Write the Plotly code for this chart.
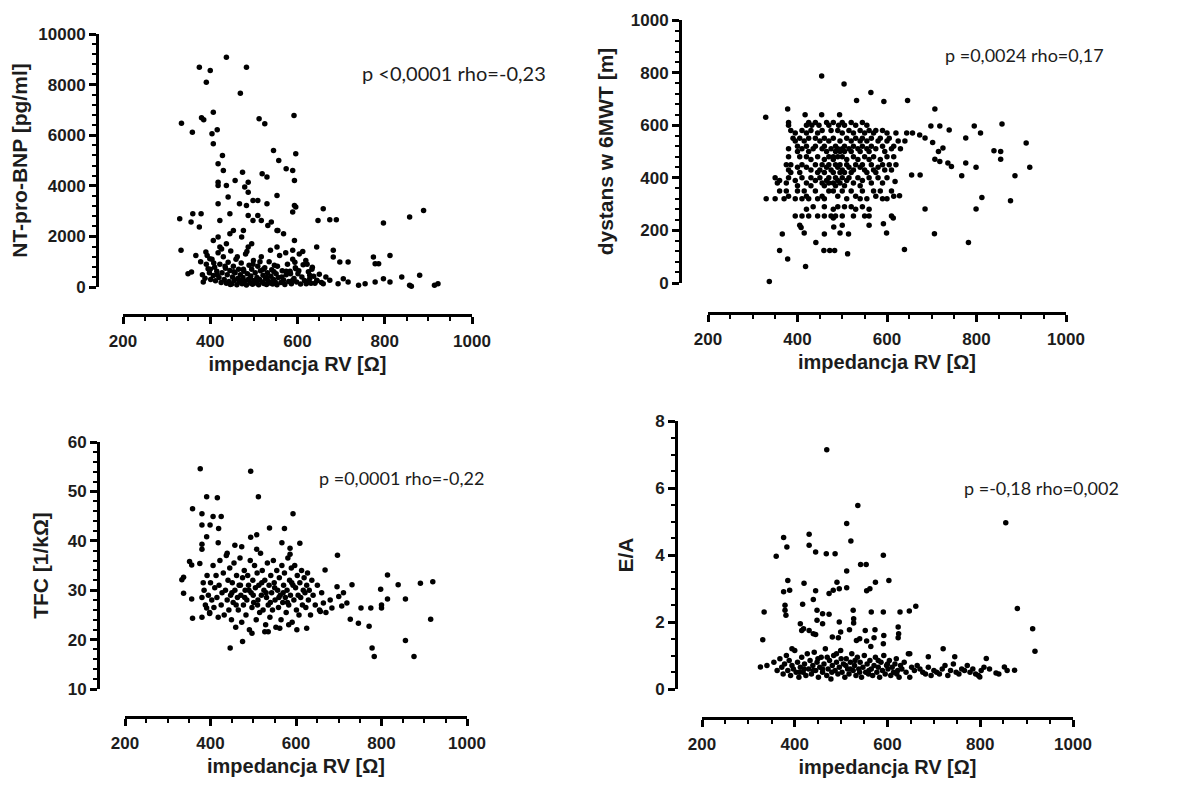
import plotly.graph_objects as go

# ---- data ----
# panel 1: NT-pro-BNP vs impedance
bnp_x = [437, 375, 400, 483, 391, 469, 334, 380, 385, 407, 359, 416, 404, 407, 512, 525, 592,
         428, 418, 545, 557, 596, 574, 589, 593, 430, 474, 457, 487, 418, 418, 437, 479, 487,
         519, 530, 441, 418, 498, 509, 553, 530, 467, 483, 593, 596, 589, 659, 889, 857, 797,
         647, 674, 689, 330, 360, 375, 356, 379, 422, 445, 487, 498, 509, 517, 532, 540, 555,
         568, 553, 445, 453, 476, 418, 407, 422, 437, 472, 495, 487, 553, 589, 593, 644, 682,
         774, 778, 786, 812, 333, 367, 390, 399, 697, 716, 682, 596, 357, 349, 812, 839, 857,
         861, 880, 914, 922, 797, 778, 755, 740, 716, 705, 693, 674, 659, 644, 628, 620, 589, 574,
         382, 388, 391, 395, 398, 401, 404, 407, 410, 412, 415, 418, 420, 422, 425, 427, 430,
         432, 435, 437, 439, 441, 443, 445, 447, 449, 451, 453, 455, 457, 459, 461, 463, 465,
         467, 469, 471, 473, 475, 477, 479, 481, 483, 485, 487, 489, 491, 493, 495, 497, 499,
         501, 503, 505, 507, 509, 511, 513, 515, 517, 519, 521, 523, 525, 527, 529, 531, 533,
         535, 537, 539, 541, 543, 545, 547, 549, 551, 553, 556, 559, 562, 565, 568, 571, 574,
         577, 580, 583, 586, 589, 592, 595, 598, 601, 604, 607, 610, 613, 616, 619, 622, 625,
         628, 631, 634, 637, 640, 378, 384, 393, 400, 408, 416, 426, 434, 446, 454, 462, 470,
         476, 484, 492, 498, 506, 514, 522, 530, 538, 546, 554, 564, 573, 584, 594, 603, 612,
         622, 633, 645, 650, 655, 665, 672]
bnp_y = [9080, 8686, 8554, 8686, 8093, 7659, 6475, 6685, 6606, 6909, 6119, 6211, 6054, 5659,
         6646, 6448, 6777, 5198, 4869, 5396, 5001, 5264, 4672, 4606, 4211, 4606, 4540, 4211,
         4145, 4145, 4014, 4014, 3948, 3750, 4474, 4343, 3553, 3290, 3422, 3422, 3619, 3290,
         3290, 3224, 3224, 3158, 2961, 3093, 3027, 2764, 2527, 2632, 2658, 2658, 2698, 2895,
         2369, 2566, 2895, 2632, 2895, 2829, 2632, 2829, 2632, 2435, 2566, 2237, 2106, 2237,
         2106, 2237, 2237, 1974, 1842, 1579, 1711, 1974, 1711, 1579, 1579, 1448, 1842, 1579,
         1448, 1184, 921, 921, 1250, 1448, 1250, 1382, 1118, 987, 987, 1184, 724, 592, 526,
         197, 395, 66, 26, 460, 66, 132, 329, 197, 132, 66, 197, 329, 132, 263, 132, 263, 461,
         132, 263,
         620, 480, 350, 900, 720, 560, 300, 1100, 450, 780, 250, 620, 1350, 380, 900, 180, 560,
         1200, 300, 740, 150, 480, 980, 220, 650, 1420, 120, 400, 820, 260, 560, 1100, 90, 340,
         700, 200, 480, 950, 130, 380, 620, 240, 1300, 80, 520, 300, 860, 160, 430, 700, 110,
         1050, 260, 560, 180, 380, 820, 90, 300, 640, 1200, 200, 460, 140, 760, 340, 100, 560,
         250, 1000, 160, 420, 680, 120, 300, 860, 200, 520, 90, 380, 1250, 180, 640, 280, 100,
         480, 900, 220, 620, 130, 1100, 340, 760, 200, 520, 1300, 120, 400, 880, 260, 1050, 180,
         600, 330, 150, 780, 420, 150, 1000, 200, 1250, 700, 950, 480, 1500, 820, 100, 600, 1200,
         260, 700, 1400, 340, 900, 160, 1000, 700, 380, 1450, 600, 820, 400, 1350, 520, 980, 640,
         1400, 900, 700, 250, 500, 180, 400]

# panel 2: 6MWT distance vs impedance
mwt_x = [329, 337, 454, 504, 564, 532, 593, 646, 378, 707, 857, 698, 718, 739, 795, 809, 776,
         839, 854, 854, 911, 919, 886, 876, 812, 799, 799, 776, 767, 736, 744, 718, 707, 715,
         725, 702, 685, 673, 657, 644, 685, 706, 782, 639, 618, 628, 614, 599, 592, 674, 655,
         366, 360, 378, 418, 441, 408, 415, 460, 481, 495, 514, 459, 472, 483, 512, 480,
         417, 454, 494,
         380, 425, 440, 465, 480, 500, 520, 545,
         380, 420, 432, 448, 470, 492, 505, 530, 555,
         385, 410, 430, 455, 475, 490, 515, 540, 560, 575, 590,
         395, 420, 445, 500, 525, 550, 570, 600, 620,
         390, 405, 425, 440, 460, 480, 510, 530, 545, 565, 585, 605,
         395, 415, 450, 470, 495, 520, 540, 555, 580, 600, 625, 640,
         400, 420, 440, 460, 485, 505, 525, 545, 565, 590, 615,
         380, 410, 435, 455, 475, 490, 500, 515, 535, 555, 575, 610, 630,
         400, 425, 465, 485, 495, 505, 520, 540, 560, 595,
         380, 405, 420, 445, 470, 480, 490, 500, 525, 550, 570, 600, 615,
         430, 460, 480, 510, 535, 560, 585,
         375, 385, 410, 440, 455, 470, 485, 495, 510, 530, 545, 565, 590, 605, 620,
         400, 420, 465, 490, 515, 540, 580,
         380, 430, 450, 475, 500, 525, 550, 570, 595, 610,
         385, 405, 445, 460, 480, 495, 505, 520, 555, 575,
         350, 380, 410, 430, 450, 470, 485, 500, 515, 535, 560, 580, 600,
         360, 395, 440, 465, 490, 510, 545,
         355, 375, 420, 455, 470, 480, 495, 525, 565, 590,
         400, 430, 460, 485, 505, 540,
         360, 375, 400, 415, 440, 470, 480, 500, 520, 545, 570, 585, 610,
         380, 420, 455, 490, 530, 575, 615,
         330, 350, 370, 395, 410, 425, 445, 460, 510, 540, 555, 590, 600,
         435, 460, 490, 505, 520, 545,
         420, 480, 530, 560,
         395, 410, 425, 445, 460, 475, 485, 500, 525, 550, 560, 610,
         405, 500, 560]
mwt_y = [630, 6, 787, 757, 724, 694, 690, 694, 662, 662, 605, 597, 597, 582, 597, 570, 551,
         503, 500, 471, 532, 440, 408, 313, 325, 281, 440, 456, 408, 456, 443, 462, 471, 500,
         513, 534, 551, 563, 570, 570, 281, 187, 154, 127, 386, 332, 247, 190, 225, 411, 411,
         186, 124, 91, 63, 154, 211, 190, 186, 213, 190, 186, 124, 124, 124, 111, 247,
         640, 640, 640,
         610, 610, 610, 610, 610, 610, 610, 610,
         600, 600, 600, 600, 600, 600, 600, 600, 600,
         580, 580, 580, 580, 580, 580, 580, 580, 580, 580, 580,
         570, 570, 570, 570, 570, 570, 570, 570, 570,
         550, 550, 550, 550, 550, 550, 550, 550, 550, 550, 550, 550,
         540, 540, 540, 540, 540, 540, 540, 540, 540, 540, 540, 540,
         520, 520, 520, 520, 520, 520, 520, 520, 520, 520, 520,
         510, 510, 510, 510, 510, 510, 510, 510, 510, 510, 510, 510, 510,
         500, 500, 500, 500, 500, 500, 500, 500, 500, 500,
         480, 480, 480, 480, 480, 480, 480, 480, 480, 480, 480, 480, 480,
         470, 470, 470, 470, 470, 470, 470,
         450, 450, 450, 450, 450, 450, 450, 450, 450, 450, 450, 450, 450, 450, 450,
         440, 440, 440, 440, 440, 440, 440,
         430, 430, 430, 430, 430, 430, 430, 430, 430, 430,
         420, 420, 420, 420, 420, 420, 420, 420, 420, 420,
         400, 400, 400, 400, 400, 400, 400, 400, 400, 400, 400, 400, 400,
         390, 390, 390, 390, 390, 390, 390,
         380, 380, 380, 380, 380, 380, 380, 380, 380, 380,
         370, 370, 370, 370, 370, 370,
         350, 350, 350, 350, 350, 350, 350, 350, 350, 350, 350, 350, 350,
         330, 330, 330, 330, 330, 330, 330,
         320, 320, 320, 320, 320, 320, 320, 320, 320, 320, 320, 320, 320,
         290, 290, 290, 290, 290, 290,
         280, 280, 280, 280,
         255, 255, 255, 255, 255, 255, 255, 255, 255, 255, 255, 255,
         220, 220, 220]

# panel 3: TFC vs impedance
tfc_x = [376, 494, 512, 391, 416, 358, 380, 406, 425, 593, 380, 399, 419, 538, 573, 391, 508,
         494, 418, 380, 567, 609, 380, 457, 473, 508, 586, 586, 697, 351, 356, 375, 439, 337,
         333, 337, 356, 358, 380, 398, 391, 446, 475, 778, 783, 856, 876, 915, 920, 891, 856,
         839, 814, 814, 798, 800, 800, 775, 771, 746, 752, 727, 731, 719, 707, 711, 696, 700,
         684, 664, 668, 657, 625, 602, 583, 562, 535, 527, 497,
         385, 388, 392, 395, 398, 400, 403, 406, 408, 410, 413, 415, 418, 420, 422, 425, 427,
         430, 432, 435, 437, 439, 441, 443, 445, 447, 449, 451, 453, 455, 457, 459, 461, 463,
         465, 467, 469, 471, 473, 475, 477, 479, 481, 483, 485, 487, 489, 491, 493, 495, 497,
         499, 501, 503, 505, 507, 509, 511, 513, 515, 517, 519, 521, 523, 525, 527, 529, 531,
         533, 535, 537, 539, 541, 543, 545, 547, 549, 551, 553, 555, 557, 559, 561, 563, 565,
         567, 569, 571, 573, 575, 577, 579, 581, 583, 585, 587, 589, 591, 593, 595, 597, 599,
         601, 603, 605, 607, 609, 611, 613, 615, 617, 619, 621, 623, 625, 627, 629, 631, 634,
         637, 640, 645, 650, 655, 660, 670, 680,
         380, 383, 450, 460, 470, 480, 490, 500, 510, 520, 530, 540, 550, 560, 570, 580, 590]
tfc_y = [54.6, 54.1, 48.9, 48.9, 48.7, 46.5, 45.5, 44.9, 44.9, 45.5, 43.2, 43.2, 42.5, 42.6,
         42.5, 40.8, 41.2, 40.7, 39.6, 39.3, 39.6, 39.5, 38.3, 39.1, 38.8, 38.3, 38.5, 37.3,
         37.1, 35.8, 35.1, 35.4, 37.5, 32.6, 32.1, 29.4, 28.2, 24.3, 24.5, 25.3, 26.4, 18.3,
         19.6, 18.3, 16.6, 19.8, 16.6, 24.1, 31.7, 31.4, 28.2, 31.1, 33.1, 28.2, 30.2, 27.0,
         26.4, 26.4, 22.7, 23.3, 26.4, 24.1, 31.1, 27.4, 26.8, 29.5, 30.7, 28.7, 26.4, 27.4,
         34.1, 25.7, 22.3, 22.0, 23.0, 22.3, 21.6, 21.6, 21.3,
         30, 27, 33, 29, 25.5, 31.5, 28, 35, 26.5, 30.5, 33, 28.5, 24.5, 31, 36, 27, 29.5,
         33.5, 25, 30, 37, 28, 32, 26, 34.5, 29, 24, 31.5, 27.5, 35.5, 30, 22.5, 33, 28.5,
         26, 31, 36.5, 29, 23.5, 32.5, 27, 34, 30, 25, 28, 33, 31, 22, 36, 29.5, 26.5,
         32, 27.5, 35, 30.5, 24, 33.5, 28, 31, 25.5, 37.5, 29, 34, 26, 30, 32, 23, 28.5,
         35.5, 27, 31, 24.5, 33, 29.5, 26, 36, 31.5, 28, 22.5, 34, 30, 26.5, 32.5, 29, 24,
         35, 27.5, 31, 33.5, 28.5, 25.5, 30, 36.5, 27, 32, 29, 34.5, 23.5, 31, 28, 35, 30.5,
         26, 33, 29, 25, 31.5, 28.5, 34, 27, 30, 32.5, 29.5, 26.5, 31, 33.5, 28, 30, 25,
         32, 29, 27, 31, 26, 29.5, 25.5, 28,
         28.5, 31.5, 29.5, 27, 31, 28.5, 30, 29, 27, 31.5, 29.5, 27.5, 30.5, 28.5, 29.5, 27.5, 31.5]

# panel 4: E/A vs impedance
ea_x = [469, 536, 512, 855, 521, 376, 431, 383, 431, 445, 468, 487, 591, 360, 542, 554, 512,
        385, 389, 420, 603, 574, 491, 512, 496, 483, 445, 474, 555, 562, 376, 440, 417, 379,
        379, 381, 334, 448, 460, 474, 526, 565, 591, 627, 647, 661, 880, 913, 918, 331, 412,
        419, 448, 460, 496, 527, 527, 518, 552, 573, 623, 624, 623, 592, 591, 571, 555, 540,
        533, 564, 494, 481, 445, 440, 431, 415, 499, 720, 745, 688, 648, 813, 852, 874, 834,
        799, 326, 394,
        340, 355, 362, 368, 372, 375, 378, 382, 385, 388, 391, 394, 397, 400, 403, 406, 409,
        412, 415, 418, 421, 424, 427, 430, 433, 436, 439, 442, 445, 448, 451, 454, 457, 460,
        463, 466, 469, 472, 475, 478, 481, 484, 487, 490, 493, 496, 499, 502, 505, 508, 511,
        514, 517, 520, 523, 526, 529, 532, 535, 538, 541, 544, 547, 550, 553, 556, 559, 562,
        565, 568, 571, 574, 577, 580, 583, 586, 589, 592, 595, 598, 601, 604, 607, 610, 613,
        616, 619, 622, 625, 628, 631, 636, 640, 645, 648, 652, 658, 664, 670, 676, 682, 688,
        694, 700, 706, 712, 718, 724, 730, 736, 742, 748, 754, 760, 766, 772, 778, 784, 790,
        796, 802, 808, 820, 858, 840,
        450, 470, 490, 510, 530, 460, 480, 500, 520, 540, 560, 580, 600, 620, 440, 420, 410]
ea_y = [7.14, 5.48, 4.94, 4.96, 4.42, 4.52, 4.62, 4.24, 4.29, 4.09, 4.04, 4.04, 3.99, 3.96,
        3.72, 3.72, 3.52, 3.24, 2.95, 3.16, 3.24, 3.19, 3.19, 3.02, 2.99, 2.95, 2.93, 2.85,
        2.93, 2.99, 2.90, 2.67, 2.53, 2.50, 2.35, 2.20, 2.30, 2.35, 2.25, 2.23, 2.35, 2.30,
        2.30, 2.30, 2.33, 2.47, 2.40, 1.80, 1.13, 1.47, 1.95, 1.80, 2.05, 1.95, 2.00, 2.10,
        1.97, 1.77, 1.75, 1.77, 1.85, 1.65, 1.53, 1.60, 1.35, 1.53, 1.43, 1.50, 1.45, 1.27,
        1.53, 1.55, 1.63, 1.65, 1.75, 1.75, 1.70, 1.20, 0.96, 0.96, 1.05, 0.91, 0.66, 0.56,
        0.48, 0.36, 0.66, 1.20,
        0.7, 0.8, 0.55, 0.9, 0.65, 0.45, 0.75, 1.0, 0.55, 0.85, 0.4, 0.7, 0.6, 1.15, 0.5, 0.8,
        0.35, 0.65, 0.95, 0.5, 0.75, 0.4, 1.05, 0.6, 0.85, 0.45, 0.7, 1.1, 0.55, 0.8, 0.35,
        0.65, 0.95, 0.5, 0.75, 1.2, 0.4, 0.6, 0.85, 0.3, 0.7, 1.0, 0.55, 0.8, 0.45, 0.65,
        1.15, 0.5, 0.75, 0.35, 0.9, 0.6, 0.45, 0.8, 1.05, 0.55, 0.7, 0.4, 0.95, 0.6, 0.8,
        0.35, 0.65, 1.0, 0.5, 0.75, 0.45, 0.85, 0.6, 0.4, 0.7, 0.95, 0.5, 0.65, 0.35, 0.8,
        0.55, 1.0, 0.45, 0.7, 0.6, 0.85, 0.4, 0.65, 0.5, 0.75, 0.9, 0.55, 0.35, 0.7, 0.6,
        0.8, 0.5, 1.05, 0.35, 0.65, 0.55, 0.7, 0.6, 0.5, 0.45, 0.65, 0.4, 0.55, 0.5, 0.45,
        0.6, 0.7, 0.4, 0.55, 0.75, 0.5, 0.45, 0.6, 0.55, 0.7, 0.5, 0.6, 0.45, 0.4, 0.55, 0.65,
        0.6, 0.55, 0.45,
        0.9, 0.95, 1.05, 0.7, 0.85, 0.6, 0.5, 0.9, 0.6, 0.5, 0.55, 0.85, 0.75, 0.45, 0.55, 0.6, 0.5]

x_title = "impedancja RV [Ω]"
y_titles = ["NT-pro-BNP [pg/ml]", "dystans w 6MWT [m]", "TFC [1/kΩ]", "E/A"]
stats = ["p <0,0001 rho=-0,23", "p =0,0024 rho=0,17", "p =0,0001 rho=-0,22", "p =-0,18 rho=0,002"]

ink = "#1c1c1c"
tick_font = dict(family="Liberation Sans", size=17, color=ink, weight="bold")
xtitle_font = dict(family="Liberation Sans", size=20, color=ink, weight="bold")
ytitle_font = dict(family="Liberation Sans", size=21, color=ink, weight="bold")

# the page body has an 8px margin, so the figure starts at (8, 8)
W, H, OFF = 1195, 781, 8


def fx(px):
    return (px - OFF) / W


def fy(py):
    return 1 - (py - OFF) / H


# panel geometry in screen pixels
panels = [
    # x px of 200/1000, y px of y-range ends, x-axis line y px, y-axis line x px
    dict(xpx=(123, 472), ypx=(287, 34), xl=315, yl=97, yr=[0, 10000], dt=2000, mn=400, ys=10),
    dict(xpx=(708, 1066), ypx=(283, 20), xl=313, yl=680, yr=[0, 1000], dt=200, mn=40, ys=10),
    dict(xpx=(125, 467), ypx=(689, 442), xl=717, yl=98, yr=[10, 60], dt=10, mn=2, ys=12),
    dict(xpx=(702, 1073), ypx=(689, 421), xl=718, yl=676, yr=[0, 8], dt=2, mn=0.5, ys=14),
]
series = [(bnp_x, bnp_y), (mwt_x, mwt_y), (tfc_x, tfc_y), (ea_x, ea_y)]
stat_px = [(360, 73), (943, 55), (317, 478), (962, 488)]
stat_size = [20, 18, 18, 18]

fig = go.Figure()
layout = {}
for i, (p, (xs, ys)) in enumerate(zip(panels, series)):
    n = "" if i == 0 else str(i + 1)
    fig.add_trace(go.Scatter(
        x=xs, y=ys, mode="markers", xaxis="x" + n, yaxis="y" + n,
        marker=dict(color="black", size=5.5), cliponaxis=False, showlegend=False,
    ))
    layout["xaxis" + n] = dict(
        domain=[fx(p["xpx"][0]), fx(p["xpx"][1])], range=[200, 1000],
        anchor="free", position=fy(p["xl"]),
        dtick=200, tick0=200, showline=True, linecolor="black", linewidth=3,
        ticks="outside", ticklen=7, tickwidth=3, tickcolor="black",
        minor=dict(dtick=50, ticks="outside", ticklen=4, tickwidth=2, tickcolor="black"),
        showgrid=False, zeroline=False, tickfont=tick_font, ticklabelstandoff=3,
        title=dict(text=x_title, font=xtitle_font, standoff=6),
    )
    layout["yaxis" + n] = dict(
        domain=[fy(p["ypx"][0]), fy(p["ypx"][1])], range=p["yr"],
        anchor="free", position=fx(p["yl"]),
        dtick=p["dt"], tick0=p["yr"][0], tickformat="d",
        showline=True, linecolor="black", linewidth=3,
        ticks="outside", ticklen=7, tickwidth=3, tickcolor="black",
        minor=dict(dtick=p["mn"], ticks="outside", ticklen=4, tickwidth=2, tickcolor="black"),
        showgrid=False, zeroline=False, tickfont=tick_font, ticklabelstandoff=0,
        title=dict(text=y_titles[i], font=ytitle_font, standoff=p["ys"]),
    )

for (sx, sy), txt, sz in zip(stat_px, stats, stat_size):
    fig.add_annotation(text=txt, x=fx(sx), y=fy(sy), xref="paper", yref="paper",
                       xanchor="left", yanchor="middle", showarrow=False,
                       font=dict(family="Lato", size=sz, color=ink))

fig.update_layout(
    width=W, height=H, paper_bgcolor="white", plot_bgcolor="white",
    margin=dict(l=0, r=0, t=0, b=0, autoexpand=False),
    **layout,
)
fig.write_html("out.html")
